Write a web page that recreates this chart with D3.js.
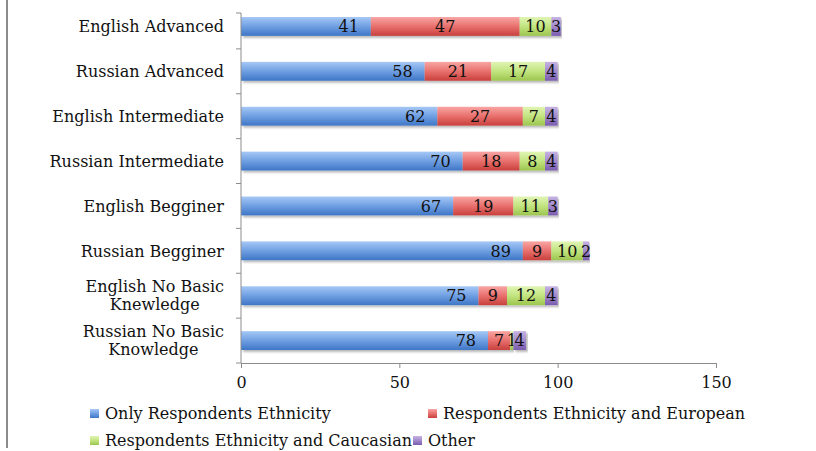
<!DOCTYPE html>
<html lang="en">
<head>
<meta charset="UTF-8">
<title>Ethnicity by language level</title>
<script src="https://cdn.jsdelivr.net/npm/d3@7"></script>
<style>
  body { margin: 0; background: #fff; }
  text { font-family: "DejaVu Serif", serif; fill: #111; }
  .axis path, .axis line { stroke: #8c8c8c; }
</style>
</head>
<body>
<div class="wrap"></div>
<script>
  // data
  var categories = ["English Advanced", "Russian Advanced", "English Intermediate", "Russian Intermediate",
                    "English Begginer", "Russian Begginer", "English No Basic Knewledge", "Russian No Basic Knowledge"];
  var seriesNames = ["Only Respondents Ethnicity", "Respondents Ethnicity and European",
                     "Respondents Ethnicity and Caucasian", "Other"];
  var onlyEthnicity = [41, 58, 62, 70, 67, 89, 75, 78];
  var withEuropean  = [47, 21, 27, 18, 19, 9, 9, 7];
  var withCaucasian = [10, 17, 7, 8, 11, 10, 12, 1];
  var other         = [3, 4, 4, 4, 3, 2, 4, 4];
  var xTicks = [0, 50, 100, 150];

  var W = 816, H = 451;
  var colors = [
    ["#a6c8f6", "#6f9fe2", "#3e76c6"],
    ["#f8a6a4", "#e8706d", "#c8403d"],
    ["#e0f5b4", "#c2e47f", "#9cc54f"],
    ["#c6b3e3", "#a189cb", "#7a5caf"]
  ];

  var rows = categories.map(function(c, i) {
    return {cat: c, s0: onlyEthnicity[i], s1: withEuropean[i], s2: withCaucasian[i], s3: other[i]};
  });
  var keys = ["s0", "s1", "s2", "s3"];
  var stacked = d3.stack().keys(keys)(rows);

  var x = d3.scaleLinear().domain([0, 150]).range([241, 716]);
  var y = d3.scaleBand().domain(categories).range([4, 363]).paddingInner(0.58).paddingOuter(0.29);

  var svg = d3.select(".wrap").append("svg")
      .attr("width", W).attr("height", H);

  var defs = svg.append("defs");
  colors.forEach(function(c, i) {
    var g = defs.append("linearGradient").attr("id", "grad" + i)
        .attr("x1", 0).attr("y1", 0).attr("x2", 0).attr("y2", 1);
    g.append("stop").attr("offset", "0%").attr("stop-color", c[0]);
    g.append("stop").attr("offset", "50%").attr("stop-color", c[1]);
    g.append("stop").attr("offset", "100%").attr("stop-color", c[2]);
  });
  defs.append("filter").attr("id", "shadow")
      .attr("x", "-5%").attr("y", "-20%").attr("width", "115%").attr("height", "160%")
    .append("feDropShadow")
      .attr("dx", 2).attr("dy", 2).attr("stdDeviation", 1.2)
      .attr("flood-color", "#000").attr("flood-opacity", 0.28);

  // grey frame line at left
  svg.append("line")
      .attr("x1", 7).attr("x2", 7).attr("y1", 0).attr("y2", 448)
      .attr("stroke", "#8c8c8c").attr("stroke-width", 2);

  // bars
  var layers = svg.append("g").selectAll("g.layer").data(stacked).enter().append("g")
      .attr("class", "layer")
      .attr("fill", function(d, i) { return "url(#grad" + i + ")"; });

  layers.selectAll("rect").data(function(d) { return d; }).enter().append("rect")
      .attr("x", function(d) { return x(d[0]); })
      .attr("y", function(d) { return y(d.data.cat); })
      .attr("width", function(d) { return x(d[1]) - x(d[0]); })
      .attr("height", y.bandwidth())
      .attr("filter", "url(#shadow)");

  // value labels: first series at inside end, others centred
  layers.each(function(layer, li) {
    d3.select(this).selectAll("text").data(layer).enter().append("text")
        .attr("x", function(d) { return li === 0 ? x(d[1]) - 12 : (x(d[0]) + x(d[1])) / 2; })
        .attr("y", function(d) { return y(d.data.cat) + y.bandwidth() / 2; })
        .attr("dy", "0.36em")
        .attr("text-anchor", li === 0 ? "end" : "middle")
        .attr("font-size", 16)
        .text(function(d) { return d[1] - d[0]; });
  });

  // x axis
  svg.append("g").attr("class", "axis")
      .attr("transform", "translate(0,363)")
      .call(d3.axisBottom(x).tickValues(xTicks).tickSize(5).tickSizeOuter(0).tickPadding(9))
      .selectAll("text").attr("font-size", 16).attr("font-family", "DejaVu Serif");

  // y axis (ticks on band boundaries)
  var yAxis = svg.append("g").attr("class", "axis");
  yAxis.append("line").attr("x1", 241).attr("x2", 241).attr("y1", 13).attr("y2", 363);
  var bounds = categories.map(function(c) { return y(c) - y.step() * y.paddingInner() / 2; }).slice(1);
  bounds.unshift(13);
  bounds.push(363);
  yAxis.selectAll("line.tick").data(bounds).enter().append("line")
      .attr("class", "tick")
      .attr("x1", 236).attr("x2", 241)
      .attr("y1", function(d) { return d; }).attr("y2", function(d) { return d; });

  // category labels, wrapped to two centred lines when long
  svg.append("g").selectAll("text").data(categories).enter().append("text")
      .attr("font-size", 16)
      .attr("text-anchor", "middle")
      .each(function(c) {
        var t = d3.select(this);
        var words = c.split(" ");
        var lines = c.length > 22 ? [words.slice(0, -1).join(" "), words[words.length - 1]] : [c];
        var cy = y(c) + y.bandwidth() / 2;
        lines.forEach(function(l, i) {
          t.append("tspan").attr("x", 0)
              .attr("y", cy + (i - (lines.length - 1) / 2) * 18)
              .attr("dy", "0.36em").text(l);
        });
        // right-align the whole block at x = 224
        var w = this.getBBox().width;
        t.attr("transform", "translate(" + (224 - w / 2) + ",0)");
      });

  // legend
  var legendPos = [[90, 413], [428, 413], [90, 440], [413, 440]];
  var legend = svg.append("g").selectAll("g").data(seriesNames).enter().append("g")
      .attr("transform", function(d, i) { return "translate(" + legendPos[i][0] + "," + legendPos[i][1] + ")"; });
  legend.append("rect")
      .attr("x", 0).attr("y", -4).attr("width", 9).attr("height", 9)
      .attr("fill", function(d, i) { return "url(#grad" + i + ")"; });
  legend.append("text")
      .attr("x", 15).attr("dy", "0.36em")
      .attr("font-size", 16)
      .text(function(d) { return d; });
</script>
</body>
</html>
